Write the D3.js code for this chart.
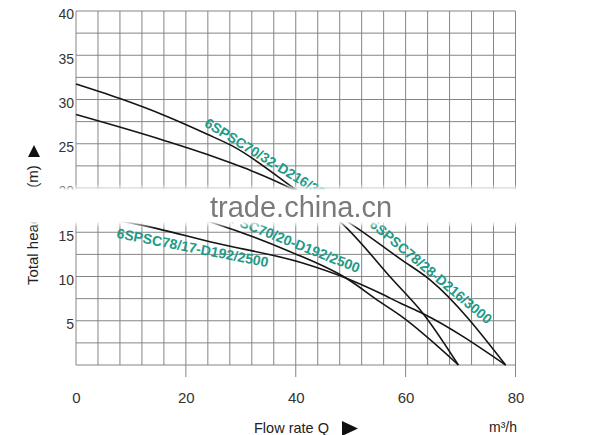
<!DOCTYPE html>
<html><head><meta charset="utf-8">
<script src="https://cdn.jsdelivr.net/npm/d3@7"></script>
<style>
body{margin:0;background:#fff}
svg{display:block}
text{font-family:"Liberation Sans",Arial,Helvetica,sans-serif}
</style>
</head><body>
<svg id="chart" width="600" height="435"></svg>
<script>
// ---- data ----
const xTickLabels = [0, 20, 40, 60, 80];
const yTickLabels = [5, 10, 15, 20, 25, 30, 35, 40];
const seriesNames = ["6SPSC70/32-D216/3000", "6SPSC78/28-D216/3000", "6SPSC70/20-D192/2500", "6SPSC78/17-D192/2500"];
const flowA = [0, 8, 15.9, 23.8, 28.6, 39.6, 48.4, 57.7, 63.2, 69.6];
const headA = [31.75, 30.1, 28.25, 26.1, 24.7, 20.0, 16.0, 9.6, 5.8, 0];
const flowB = [0, 15.9, 23.8, 39.6, 49.9, 59.0, 64.5, 78.2];
const headB = [28.3, 25.4, 23.8, 19.8, 16.0, 12.0, 9.6, 0];
const flowC = [0, 25.3, 39.0, 49.2, 55.4, 59.0, 69.6];
const headC = [19.6, 16.0, 12.8, 9.8, 7.1, 5.6, 0];
const flowD = [0, 10.4, 25.6, 40.8, 49.2, 55.4, 59.0, 63.2, 78.2];
const headD = [17.0, 16.0, 13.75, 11.6, 9.8, 8.1, 7.0, 5.8, 0];
const xAxisTitle = "Flow rate Q";
const yAxisTitle = "Total head";
const yUnit = "(m)";
const xUnit = "m³/h";
const watermark = "trade.china.cn";

// ---- layout ----
const svg = d3.select("#chart");
const x = d3.scaleLinear().domain([0, 80]).range([76, 515.5]);
const y = d3.scaleLinear().domain([0, 40]).range([365, 11]);
const gridColor = "#858585";
const teal = "#1e9a86";

svg.append("rect").attr("width", 600).attr("height", 435).attr("fill", "#fff");

const defs = svg.append("defs");
const grad = defs.append("linearGradient").attr("id", "bandGrad")
  .attr("x1", 0).attr("y1", 0).attr("x2", 0).attr("y2", 1);
[[0, 0], [0.15, 1], [0.85, 1], [1, 0]].forEach(([o, a]) =>
  grad.append("stop").attr("offset", o).attr("stop-color", "#fff").attr("stop-opacity", a));
defs.append("filter").attr("id", "blurText")
  .append("feGaussianBlur").attr("stdDeviation", 0.6);

// grid
const gridQ = d3.range(0, 80.001, 4);
const gridH = d3.range(0, 40.001, 2.5);
const grid = svg.append("g");
grid.selectAll("line.v").data(gridQ).join("line")
  .attr("x1", d => x(d)).attr("x2", d => x(d))
  .attr("y1", y(40)).attr("y2", d => (d > 0 && d % 20 === 0) ? y(0) + 12 : y(0))
  .attr("stroke", gridColor).attr("stroke-width", 1);
grid.selectAll("line.h").data(gridH).join("line")
  .attr("x1", x(0)).attr("x2", x(80))
  .attr("y1", d => y(d)).attr("y2", d => y(d))
  .attr("stroke", gridColor).attr("stroke-width", 1);

// tick labels via axes
const yAxis = d3.axisLeft(y).tickValues(yTickLabels).tickSize(0).tickPadding(0);
const gy = svg.append("g").attr("transform", "translate(74,3.5)").call(yAxis);
gy.select(".domain").remove();
gy.selectAll("text").attr("font-size", 14).attr("fill", "#333")
  .attr("font-family", '"Liberation Sans",Arial,sans-serif');

const xAxis = d3.axisBottom(x).tickValues(xTickLabels).tickSize(0).tickPadding(0);
const gx = svg.append("g").attr("transform", "translate(0,392)").call(xAxis);
gx.select(".domain").remove();
gx.selectAll("text").attr("font-size", 15).attr("fill", "#333")
  .attr("font-family", '"Liberation Sans",Arial,sans-serif');

// curves
const line = d3.line().x(d => x(d[0])).y(d => y(d[1])).curve(d3.curveMonotoneX);
const series = [
  d3.zip(flowA, headA), d3.zip(flowB, headB), d3.zip(flowC, headC), d3.zip(flowD, headD)
];
svg.append("g").attr("class", "curves").selectAll("path").data(series).join("path")
  .attr("d", line).attr("fill", "none").attr("stroke", "#151515").attr("stroke-width", 1.6);

// curve labels
const labelPos = [
  {x: 206, y: 121.5, a: 31.5},
  {x: 372, y: 222, a: 40},
  {x: 216, y: 212, a: 21.5},
  {x: 117, y: 233, a: 11}
];
svg.append("g").selectAll("text").data(seriesNames).join("text")
  .attr("transform", (d, i) => `translate(${labelPos[i].x},${labelPos[i].y}) rotate(${labelPos[i].a})`)
  .attr("dy", "0.35em").attr("font-size", 14).attr("font-weight", "bold").attr("fill", teal)
  .text(d => d);

// axis titles
svg.append("text").attr("x", 254).attr("y", 428).attr("dy", "0.35em")
  .attr("font-size", 14.5).attr("fill", "#222").text(xAxisTitle);
svg.append("path").attr("d", "M342,421L358,428.5L342,436Z").attr("fill", "#111");
svg.append("text").attr("x", 489).attr("y", 427).attr("dy", "0.35em")
  .attr("font-size", 14).attr("fill", "#222").text(xUnit);

svg.append("text").attr("transform", "translate(33,285) rotate(-90)").attr("dy", "0.35em")
  .attr("font-size", 15).attr("fill", "#222").text(yAxisTitle);
svg.append("text").attr("transform", "translate(33,176.5) rotate(-90)").attr("dy", "0.35em")
  .attr("text-anchor", "middle").attr("font-size", 15).attr("fill", "#222").text(yUnit);
svg.append("path").attr("d", "M28,157L40,157L34,145Z").attr("fill", "#111");

// watermark band (on top of everything drawn above)
svg.append("rect").attr("x", 0).attr("y", 184).attr("width", 600).attr("height", 44)
  .attr("fill", "url(#bandGrad)");
svg.append("text").attr("x", 210).attr("y", 217).attr("font-size", 29).attr("fill", "#7a7a7a")
  .attr("filter", "url(#blurText)").text(watermark);
</script>
</body></html>
